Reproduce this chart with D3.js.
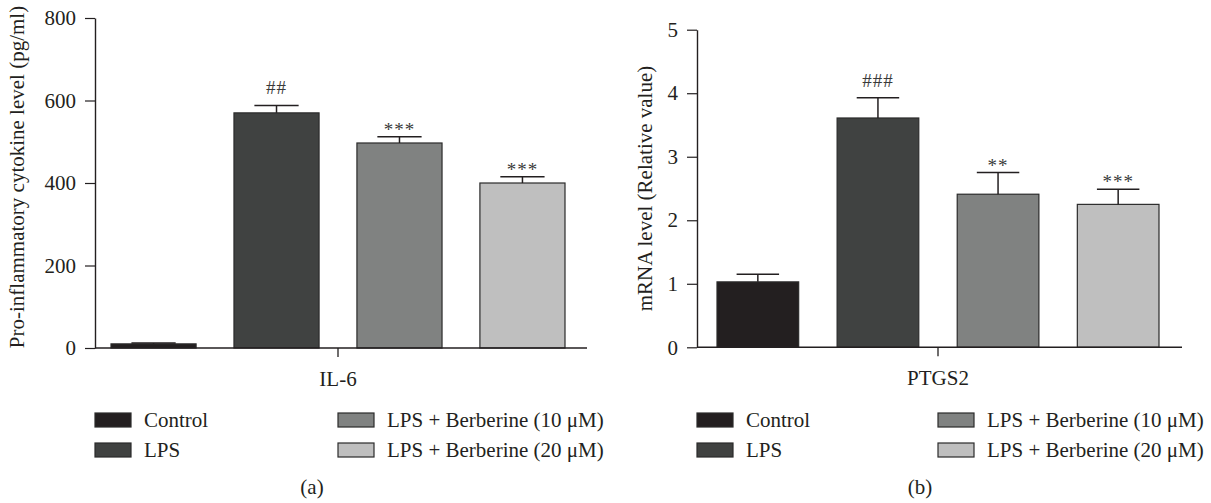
<!DOCTYPE html>
<html>
<head>
<meta charset="utf-8">
<script src="https://cdn.jsdelivr.net/npm/d3@7"></script>
<style>
  body { margin: 0; background: #fff; }
  svg text { font-family: 'Liberation Serif', 'Times New Roman', serif; fill: #231f20; }
</style>
</head>
<body>
<div id="wrapper"></div>
<script>
const groups = ['Control', 'LPS', 'LPS + Berberine (10 \u03bcM)', 'LPS + Berberine (20 \u03bcM)'];

const il6Means = [10, 570, 497, 400];
const il6Errors = [2, 18, 15, 15];
const il6Marks = ['', '##', '***', '***'];
const il6Ticks = [0, 200, 400, 600, 800];

const ptgs2Means = [1.03, 3.61, 2.41, 2.25];
const ptgs2Errors = [0.12, 0.32, 0.34, 0.24];
const ptgs2Marks = ['', '###', '**', '***'];
const ptgs2Ticks = [0, 1, 2, 3, 4, 5];

const width = 1211;
const height = 503;

const color = d3.scaleOrdinal()
  .domain(groups)
  .range(['#231f20', '#404241', '#808281', '#bfbfbf']);

const svg = d3.select('#wrapper')
  .append('svg')
  .attr('width', width)
  .attr('height', height);

function drawPanel(p) {
  const g = svg.append('g');

  const y = d3.scaleLinear()
    .domain([0, d3.max(p.ticks)])
    .range([p.bottom, p.top]);

  const gene = d3.scaleBand()
    .domain([p.gene])
    .range(p.barRange);

  const x = d3.scaleBand()
    .domain(groups)
    .range(p.barRange)
    .paddingInner(p.padding)
    .paddingOuter(0);

  // y axis
  g.append('g')
    .attr('transform', 'translate(' + p.axisX + ',0)')
    .call(d3.axisLeft(y).tickValues(p.ticks).tickFormat(d3.format('d'))
      .tickSize(10).tickSizeOuter(0).tickPadding(9))
    .call(a => a.select('.domain').attr('stroke', '#231f20').attr('stroke-width', 1.4))
    .call(a => a.selectAll('.tick line').attr('stroke', '#231f20').attr('stroke-width', 1.2))
    .call(a => a.selectAll('.tick text')
      .style('font-family', "'Liberation Serif', serif")
      .style('font-size', '21px')
      .attr('fill', '#231f20'));

  // bars
  g.selectAll('rect.bar')
    .data(p.means)
    .enter()
    .append('rect')
    .attr('class', 'bar')
    .attr('x', (d, i) => x(groups[i]))
    .attr('width', x.bandwidth())
    .attr('y', d => y(d))
    .attr('height', d => y(0) - y(d))
    .attr('fill', (d, i) => color(groups[i]))
    .attr('stroke', '#2b2b2b')
    .attr('stroke-width', 1.2);

  // upper error bars
  const err = g.selectAll('g.err')
    .data(p.means)
    .enter()
    .append('g')
    .attr('class', 'err')
    .attr('stroke', '#231f20')
    .attr('stroke-width', 1.5);

  err.append('line')
    .attr('x1', (d, i) => x(groups[i]) + x.bandwidth() / 2)
    .attr('x2', (d, i) => x(groups[i]) + x.bandwidth() / 2)
    .attr('y1', d => y(d))
    .attr('y2', (d, i) => y(d + p.errors[i]));

  err.append('line')
    .attr('x1', (d, i) => x(groups[i]) + x.bandwidth() * 0.24)
    .attr('x2', (d, i) => x(groups[i]) + x.bandwidth() * 0.76)
    .attr('y1', (d, i) => y(d + p.errors[i]))
    .attr('y2', (d, i) => y(d + p.errors[i]));

  // significance marks
  g.selectAll('text.mark')
    .data(p.marks)
    .enter()
    .append('text')
    .attr('class', 'mark')
    .attr('x', (d, i) => x(groups[i]) + x.bandwidth() / 2)
    .attr('y', (d, i) => y(p.means[i] + p.errors[i]) - (d.startsWith('#') ? 11 : 1))
    .attr('text-anchor', 'middle')
    .style('font-size', '19px')
    .style('letter-spacing', '1px')
    .style('fill', '#3a3a3a')
    .text(d => d);

  // x axis
  g.append('line')
    .attr('x1', p.xAxisStart)
    .attr('x2', p.xAxisEnd)
    .attr('y1', y(0))
    .attr('y2', y(0))
    .attr('stroke', '#231f20')
    .attr('stroke-width', 1.4);

  g.append('g')
    .attr('transform', 'translate(0,' + y(0) + ')')
    .call(d3.axisBottom(gene).tickSize(9).tickSizeOuter(0).tickPadding(14))
    .call(a => a.select('.domain').remove())
    .call(a => a.selectAll('.tick line').attr('stroke', '#231f20').attr('stroke-width', 1.3))
    .call(a => a.selectAll('.tick text')
      .style('font-family', "'Liberation Serif', serif")
      .style('font-size', '21px')
      .attr('fill', '#231f20'));

  // y label
  g.append('text')
    .attr('transform', 'translate(' + p.labelX + ',' + p.labelY + ') rotate(-90)')
    .attr('text-anchor', 'middle')
    .style('font-size', '21px')
    .text(p.yLabel);

  // legend
  const cols = [p.axisX, p.legendCol2];
  const leg = g.selectAll('g.leg')
    .data(groups)
    .enter()
    .append('g')
    .attr('class', 'leg')
    .attr('transform', (d, i) => 'translate(' + cols[Math.floor(i / 2)] + ',' + (413 + (i % 2) * 30) + ')');

  leg.append('rect')
    .attr('width', 36)
    .attr('height', 14)
    .attr('fill', d => color(d))
    .attr('stroke', '#2b2b2b')
    .attr('stroke-width', 1.2);

  leg.append('text')
    .attr('x', 49)
    .attr('y', 14)
    .style('font-size', '21px')
    .text(d => d);

  g.append('text')
    .attr('x', p.tagX)
    .attr('y', 494)
    .attr('text-anchor', 'middle')
    .style('font-size', '21px')
    .text(p.tag);
}

drawPanel({
  gene: 'IL-6', means: il6Means, errors: il6Errors, marks: il6Marks, ticks: il6Ticks,
  top: 18, bottom: 348, axisX: 95, barRange: [111, 565], padding: 0.308,
  xAxisStart: 95, xAxisEnd: 587,
  yLabel: 'Pro-inflammatory cytokine level (pg/ml)', labelX: 24, labelY: 177,
  legendCol2: 338, tagX: 312, tag: '(a)'
});

drawPanel({
  gene: 'PTGS2', means: ptgs2Means, errors: ptgs2Errors, marks: ptgs2Marks, ticks: ptgs2Ticks,
  top: 29.7, bottom: 347.3, axisX: 697, barRange: [717, 1159], padding: 0.32,
  xAxisStart: 697, xAxisEnd: 1182,
  yLabel: 'mRNA level (Relative value)', labelX: 652, labelY: 188.5,
  legendCol2: 938, tagX: 920, tag: '(b)'
});
</script>
</body>
</html>
